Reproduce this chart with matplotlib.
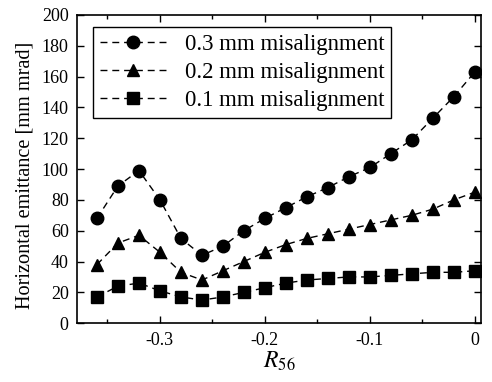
import matplotlib
matplotlib.use("Agg")
import matplotlib.pyplot as plt
from matplotlib.ticker import MultipleLocator

plt.rcParams['font.family'] = ['Liberation Serif', 'DejaVu Serif']
plt.rcParams['mathtext.fontset'] = 'stix'
plt.rcParams['axes.unicode_minus'] = False

r56 = [-0.36, -0.34, -0.32, -0.30, -0.28, -0.26, -0.24, -0.22, -0.20, -0.18,
       -0.16, -0.14, -0.12, -0.10, -0.08, -0.06, -0.04, -0.02, 0.0]
mis_03 = [68, 89, 99, 80, 55, 44, 50, 60, 68, 75, 82, 88, 95, 101, 110, 119, 133, 147, 163]
mis_02 = [38, 52, 57, 46, 33, 28, 34, 40, 46, 51, 55, 58, 61, 64, 67, 70, 74, 80, 85]
mis_01 = [17, 24, 26, 21, 17, 15, 17, 20, 23, 26, 28, 29, 30, 30, 31, 32, 33, 33, 34]
labels = ['0.3 mm misalignment', '0.2 mm misalignment', '0.1 mm misalignment']

fig = plt.figure(figsize=(4.92, 3.82), dpi=100)
ax = fig.add_axes([0.1565, 0.154, 0.8215, 0.807])

ls = dict(color='black', linestyle=(0, (5, 3.5)), linewidth=1.0, markersize=9)
ax.plot(r56, mis_03, marker='o', label=labels[0], **ls)
ax.plot(r56, mis_02, marker='^', label=labels[1], **ls)
ax.plot(r56, mis_01, marker='s', label=labels[2], **ls)

ax.set_xlim(-0.379, 0.006)
ax.set_ylim(0, 200)
ax.xaxis.set_minor_locator(MultipleLocator(0.05))
ax.yaxis.set_major_locator(MultipleLocator(20))
ax.set_xticks([-0.3, -0.2, -0.1, 0.0])
ax.set_xticklabels(['-0.3', '-0.2', '-0.1', '0'])
ax.tick_params(which='both', direction='in', top=True, right=True, labelsize=13)
ax.tick_params(which='major', length=5, width=1)
ax.tick_params(which='minor', length=3, width=1)
ax.tick_params(axis='y', pad=6)
ax.tick_params(axis='x', pad=6)
for s in ax.spines.values():
    s.set_linewidth(1.2)

ax.set_xlabel(r'$R_{\mathit{56}}$', fontsize=17, labelpad=1)
ax.set_ylabel('Horizontal emittance [mm mrad]', fontsize=14.6)
ax.yaxis.set_label_coords(-0.106, 0.48)

leg = ax.legend(loc='upper left', fontsize=16.5, frameon=True, fancybox=False,
                edgecolor='black', framealpha=1, handlelength=2.9, handletextpad=0.8,
                borderpad=0.3, labelspacing=0.3, borderaxespad=0,
                bbox_to_anchor=(0.04, 0.96))
leg.get_frame().set_linewidth(1.0)

fig.savefig('out.png', dpi=100)
